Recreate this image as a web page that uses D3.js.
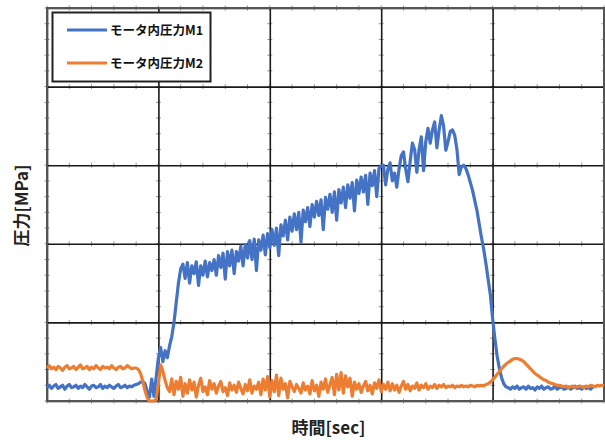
<!DOCTYPE html>
<html><head><meta charset="utf-8">
<script src="https://cdn.jsdelivr.net/npm/d3@7"></script>
<style>
html,body{margin:0;padding:0;background:#fff;}
svg{display:block;font-family:"Noto Sans CJK JP","Noto Sans",sans-serif;}
</style></head>
<body><svg id="c" width="605" height="440"></svg>
<script>
// sample interval [sec]
const dt = 0.2;
const seriesNames = ["モータ内圧力M1", "モータ内圧力M2"];
const xTicks = [0, 10, 20, 30, 40, 50];
const yTicks = [0, 1, 2, 3, 4, 5];
const xLabel = "時間[sec]";
const yLabel = "圧力[MPa]";

const m1 = [
0.17,0.2,0.16,0.19,0.21,0.16,0.18,0.2,0.15,0.19,
0.21,0.17,0.18,0.2,0.16,0.19,0.17,0.21,0.18,0.15,
0.19,0.2,0.17,0.18,0.21,0.16,0.19,0.17,0.2,0.18,
0.16,0.19,0.21,0.17,0.18,0.2,0.17,0.19,0.18,0.2,
0.21,0.22,0.24,0.25,0.22,0.12,0.05,0.28,0.06,0.3,
0.55,0.68,0.5,0.64,0.55,0.7,0.82,1.0,1.25,1.5,
1.68,
1.74,1.56,1.76,1.50,1.72,
1.62,1.77,1.47,1.72,1.60,
1.78,1.58,1.76,1.66,1.80,
1.60,1.85,1.70,1.88,1.55,
1.90,1.72,1.92,1.62,1.90,
1.78,1.97,1.72,1.99,1.82,
2.04,1.80,2.06,1.66,2.05,
1.92,2.11,1.86,2.13,1.95,
2.18,1.98,2.20,1.85,2.24,
2.10,2.30,2.05,2.34,2.16,
2.38,2.18,2.40,2.02,2.43,
2.28,2.46,2.22,2.50,2.34,
2.54,2.36,2.56,2.18,2.59,
2.44,2.63,2.40,2.66,2.30,
2.69,2.52,2.72,2.46,2.75,
2.58,2.78,2.42,2.81,2.64,
2.85,2.66,2.87,2.50,2.90,
2.74,2.93,2.60,2.96,2.99,
3.0,2.75,2.95,3.03,2.8,2.9,2.72,2.95,3.12,3.17,
2.95,2.79,3.05,3.28,3.2,2.91,3.2,3.36,2.93,3.3,
3.47,3.28,3.45,3.55,3.22,3.45,3.63,3.5,3.19,3.3,
3.43,3.45,3.38,3.2,2.88,2.98,3.0,2.96,2.88,2.78,
2.68,2.55,2.42,2.25,2.08,1.93,1.75,1.55,1.35,1.05,
0.80,0.58,0.42,0.30,0.22,0.18,0.17,0.15,0.18,0.16,
0.19,0.15,0.17,0.18,0.15,0.19,0.16,0.17,0.14,0.18,
0.16,0.19,0.15,0.17,0.18,0.15,0.16,0.19,0.15,0.17,
0.18,0.15,0.16,0.18,0.15,0.17,0.19,0.16,0.17,0.15,
0.18,0.16,0.17,0.15,0.18
];

const m2 = [
0.42,0.45,0.41,0.43,0.40,0.44,0.42,0.39,0.43,0.45,
0.41,0.42,0.44,0.40,0.43,0.46,0.41,0.42,0.44,0.40,
0.43,0.41,0.45,0.42,0.40,0.44,0.42,0.43,0.41,0.45,
0.42,0.40,0.43,0.44,0.41,0.42,0.45,0.43,0.41,0.42,
0.42,0.40,0.35,0.25,0.13,0.04,0.0,0.0,0.0,0.02,
0.22,0.46,0.38,0.26,0.17,
0.12,0.28,0.08,0.25,0.15,0.30,0.06,0.22,0.10,0.27,
0.14,0.24,0.05,0.20,0.29,0.12,0.18,0.08,0.26,0.15,
0.22,0.10,0.19,0.25,0.12,0.17,0.07,0.23,0.14,0.20,
0.11,0.24,0.16,0.09,0.21,0.13,0.27,0.10,0.19,0.15,
0.24,0.08,0.28,0.14,0.31,0.05,0.26,0.12,0.33,0.07,
0.29,0.15,0.22,0.04,0.25,0.18,0.12,0.21,0.16,0.10,
0.23,0.14,0.19,0.09,0.26,0.13,0.20,0.06,0.24,0.15,
0.28,0.11,0.21,0.30,0.08,0.34,0.14,0.36,0.10,0.32,
0.18,0.29,0.06,0.24,0.15,0.22,0.11,0.19,0.25,0.13,
0.20,0.09,0.23,0.16,0.27,0.12,0.21,0.15,0.24,0.13,
0.22,0.14,0.20,0.11,0.19,0.25,0.15,0.21,0.13,0.19,
0.16,0.23,0.14,0.20,0.17,0.22,0.15,0.19,0.17,0.21,
0.16,0.20,0.18,0.21,0.17,0.19,0.18,0.20,0.17,0.19,
0.18,0.20,0.18,0.19,0.18,0.20,0.19,0.18,0.20,0.19,
0.20,0.19,0.21,0.22,0.24,
0.27,0.30,0.34,0.37,0.41,0.44,0.47,0.49,0.51,0.53,
0.54,0.54,0.53,0.52,0.50,0.47,0.44,0.41,0.38,0.35,
0.33,0.31,0.29,0.27,0.26,0.24,0.23,0.22,0.21,0.20,
0.20,0.19,0.18,0.19,0.17,0.18,0.19,0.17,0.18,0.19,
0.18,0.17,0.19,0.18,0.20,0.19,0.18,0.20,0.19,0.20,
0.19
];

const colors = ["#4472C4", "#ED7D31"];

const svg = d3.select("#c");
const L = 47, R = 604, T = 8, B = 401;
const x = d3.scaleLinear().domain([0, 50]).range([L, R]);
const y = d3.scaleLinear().domain([0, 5]).range([B, T]);

// minor ticks along gridlines
const minorX = d3.range(0, 50.01, 2);
const minorY = d3.range(0, 5.001, 0.2);
const g = svg.append("g");
xTicks.forEach(tx => {
  g.selectAll(null).data(minorY).enter().append("line")
    .attr("x1", x(tx) - 2.5).attr("x2", x(tx) + 2.5)
    .attr("y1", d => y(d)).attr("y2", d => y(d))
    .attr("stroke", "#999").attr("stroke-width", 1);
});
yTicks.forEach(ty => {
  g.selectAll(null).data(minorX).enter().append("line")
    .attr("y1", y(ty) - 2.5).attr("y2", y(ty) + 2.5)
    .attr("x1", d => x(d)).attr("x2", d => x(d))
    .attr("stroke", "#999").attr("stroke-width", 1);
});

// grid
svg.append("g").attr("transform", `translate(0,${B})`)
  .call(d3.axisBottom(x).tickValues(xTicks).tickSize(-(B - T)).tickFormat(""))
  .call(a => a.select(".domain").remove())
  .call(a => a.selectAll("line").attr("stroke", "#1a1a1a").attr("stroke-width", 1.6));
svg.append("g").attr("transform", `translate(${L},0)`)
  .call(d3.axisLeft(y).tickValues(yTicks).tickSize(-(R - L)).tickFormat(""))
  .call(a => a.select(".domain").remove())
  .call(a => a.selectAll("line").attr("stroke", "#1a1a1a").attr("stroke-width", 1.6));

// frame
svg.append("rect").attr("x", L).attr("y", T).attr("width", R - L).attr("height", B - T)
  .attr("fill", "none").attr("stroke", "#555").attr("stroke-width", 2);

// lines
const line = d3.line().x((d, i) => x(i * dt)).y(d => y(d));
[m1, m2].forEach((s, k) => {
  svg.append("path").datum(s).attr("d", line)
    .attr("fill", "none").attr("stroke", colors[k])
    .attr("stroke-width", 3.2).attr("stroke-linejoin", "round");
});

// legend
const lg = svg.append("g");
lg.append("rect").attr("x", 52.5).attr("y", 12.5).attr("width", 158).attr("height", 69)
  .attr("fill", "#fff").attr("stroke", "#222").attr("stroke-width", 2);
seriesNames.forEach((n, k) => {
  const yy = 30 + k * 33;
  lg.append("line").attr("x1", 67).attr("x2", 107).attr("y1", yy).attr("y2", yy)
    .attr("stroke", colors[k]).attr("stroke-width", 3);
  lg.append("text").attr("x", 110).attr("y", yy).attr("dy", "0.36em")
    .attr("font-size", 12.5).attr("font-weight", 700).attr("fill", "#111").text(n);
});

// axis labels
svg.append("text").attr("x", (L + R) / 2 + 3).attr("y", 429)
  .attr("text-anchor", "middle").attr("dominant-baseline", "middle")
  .attr("font-size", 17).attr("font-weight", 700).attr("fill", "#222").text(xLabel);
svg.append("text").attr("transform", `translate(23,${(T + B) / 2 + 1}) rotate(-90)`)
  .attr("text-anchor", "middle").attr("dominant-baseline", "middle")
  .attr("font-size", 17).attr("font-weight", 700).attr("fill", "#222").text(yLabel);
</script></body></html>
